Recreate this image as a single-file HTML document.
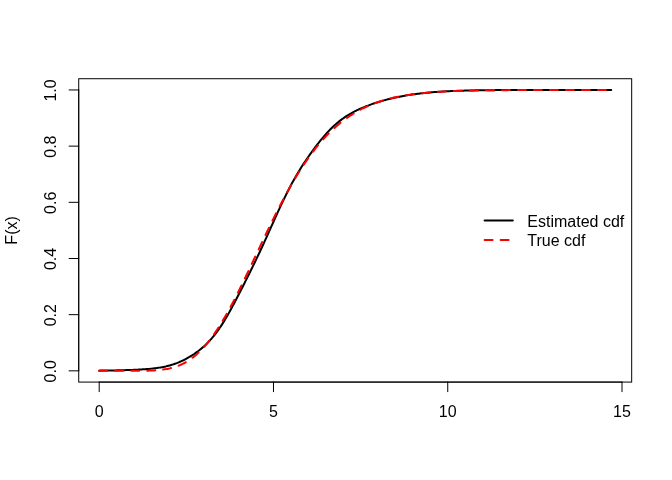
<!DOCTYPE html>
<html><head><meta charset="utf-8"><style>
html,body{margin:0;padding:0;background:#fff;}
svg{display:block;will-change:transform;}
text{font-family:"Liberation Sans",sans-serif;font-size:16px;fill:#000;}
</style></head><body>
<svg width="672" height="480" viewBox="0 0 672 480">
<rect width="672" height="480" fill="#fff"/>
<rect x="78.72" y="78.72" width="552.96" height="303.36" fill="none" stroke="#000" stroke-width="1.000"/>
<line x1="99.20" y1="382.08" x2="622.00" y2="382.08" stroke="#000" stroke-width="1.000" stroke-linecap="round"/>
<line x1="99.20" y1="382.08" x2="99.20" y2="391.68" stroke="#000" stroke-width="1.000" stroke-linecap="round"/>
<line x1="273.47" y1="382.08" x2="273.47" y2="391.68" stroke="#000" stroke-width="1.000" stroke-linecap="round"/>
<line x1="447.74" y1="382.08" x2="447.74" y2="391.68" stroke="#000" stroke-width="1.000" stroke-linecap="round"/>
<line x1="622.00" y1="382.08" x2="622.00" y2="391.68" stroke="#000" stroke-width="1.000" stroke-linecap="round"/>
<line x1="78.72" y1="370.84" x2="78.72" y2="89.96" stroke="#000" stroke-width="1.000" stroke-linecap="round"/>
<line x1="78.72" y1="370.84" x2="69.12" y2="370.84" stroke="#000" stroke-width="1.000" stroke-linecap="round"/>
<line x1="78.72" y1="314.67" x2="69.12" y2="314.67" stroke="#000" stroke-width="1.000" stroke-linecap="round"/>
<line x1="78.72" y1="258.49" x2="69.12" y2="258.49" stroke="#000" stroke-width="1.000" stroke-linecap="round"/>
<line x1="78.72" y1="202.31" x2="69.12" y2="202.31" stroke="#000" stroke-width="1.000" stroke-linecap="round"/>
<line x1="78.72" y1="146.13" x2="69.12" y2="146.13" stroke="#000" stroke-width="1.000" stroke-linecap="round"/>
<line x1="78.72" y1="89.96" x2="69.12" y2="89.96" stroke="#000" stroke-width="1.000" stroke-linecap="round"/>
<path d="M99.20,370.63 L100.48,370.61 L101.77,370.60 L103.05,370.58 L104.33,370.57 L105.62,370.55 L106.90,370.53 L108.18,370.51 L109.47,370.49 L110.75,370.47 L112.03,370.45 L113.32,370.43 L114.60,370.40 L115.88,370.38 L117.16,370.35 L118.45,370.32 L119.73,370.29 L121.01,370.26 L122.30,370.23 L123.58,370.19 L124.86,370.16 L126.15,370.12 L127.43,370.08 L128.71,370.03 L130.00,369.99 L131.28,369.94 L132.56,369.89 L133.85,369.84 L135.13,369.78 L136.41,369.72 L137.70,369.66 L138.98,369.59 L140.26,369.52 L141.55,369.45 L142.83,369.37 L144.11,369.28 L145.40,369.19 L146.68,369.09 L147.96,368.99 L149.25,368.88 L150.53,368.76 L151.81,368.63 L153.09,368.49 L154.38,368.34 L155.66,368.19 L156.94,368.01 L158.23,367.83 L159.51,367.63 L160.79,367.42 L162.08,367.19 L163.36,366.94 L164.64,366.68 L165.93,366.40 L167.21,366.09 L168.49,365.77 L169.78,365.42 L171.06,365.05 L172.34,364.66 L173.63,364.25 L174.91,363.81 L176.19,363.34 L177.48,362.85 L178.76,362.33 L180.04,361.78 L181.33,361.21 L182.61,360.61 L183.89,359.99 L185.17,359.33 L186.46,358.65 L187.74,357.94 L189.02,357.21 L190.31,356.44 L191.59,355.65 L192.87,354.82 L194.16,353.97 L195.44,353.08 L196.72,352.17 L198.01,351.22 L199.29,350.23 L200.57,349.21 L201.86,348.14 L203.14,347.04 L204.42,345.89 L205.71,344.69 L206.99,343.45 L208.27,342.15 L209.56,340.80 L210.84,339.39 L212.12,337.92 L213.41,336.39 L214.69,334.80 L215.97,333.15 L217.26,331.42 L218.54,329.64 L219.82,327.78 L221.10,325.87 L222.39,323.89 L223.67,321.85 L224.95,319.75 L226.24,317.59 L227.52,315.38 L228.80,313.13 L230.09,310.83 L231.37,308.48 L232.65,306.11 L233.94,303.70 L235.22,301.26 L236.50,298.80 L237.79,296.32 L239.07,293.82 L240.35,291.31 L241.64,288.78 L242.92,286.25 L244.20,283.70 L245.49,281.15 L246.77,278.59 L248.05,276.02 L249.34,273.43 L250.62,270.84 L251.90,268.24 L253.18,265.62 L254.47,262.98 L255.75,260.33 L257.03,257.65 L258.32,254.96 L259.60,252.25 L260.88,249.51 L262.17,246.75 L263.45,243.97 L264.73,241.17 L266.02,238.36 L267.30,235.52 L268.58,232.68 L269.87,229.82 L271.15,226.96 L272.43,224.09 L273.72,221.23 L275.00,218.37 L276.28,215.53 L277.57,212.70 L278.85,209.89 L280.13,207.11 L281.42,204.36 L282.70,201.64 L283.98,198.96 L285.27,196.32 L286.55,193.73 L287.83,191.18 L289.11,188.68 L290.40,186.23 L291.68,183.83 L292.96,181.48 L294.25,179.18 L295.53,176.92 L296.81,174.72 L298.10,172.56 L299.38,170.44 L300.66,168.37 L301.95,166.33 L303.23,164.34 L304.51,162.38 L305.80,160.45 L307.08,158.56 L308.36,156.69 L309.65,154.86 L310.93,153.06 L312.21,151.28 L313.50,149.53 L314.78,147.80 L316.06,146.11 L317.35,144.44 L318.63,142.80 L319.91,141.19 L321.19,139.61 L322.48,138.07 L323.76,136.55 L325.04,135.07 L326.33,133.63 L327.61,132.23 L328.89,130.86 L330.18,129.53 L331.46,128.24 L332.74,126.99 L334.03,125.79 L335.31,124.62 L336.59,123.50 L337.88,122.41 L339.16,121.37 L340.44,120.36 L341.73,119.39 L343.01,118.46 L344.29,117.56 L345.58,116.70 L346.86,115.87 L348.14,115.07 L349.43,114.30 L350.71,113.55 L351.99,112.84 L353.28,112.15 L354.56,111.48 L355.84,110.83 L357.12,110.20 L358.41,109.60 L359.69,109.01 L360.97,108.44 L362.26,107.88 L363.54,107.34 L364.82,106.82 L366.11,106.30 L367.39,105.81 L368.67,105.32 L369.96,104.85 L371.24,104.38 L372.52,103.93 L373.81,103.49 L375.09,103.06 L376.37,102.64 L377.66,102.24 L378.94,101.84 L380.22,101.45 L381.51,101.07 L382.79,100.70 L384.07,100.34 L385.36,99.99 L386.64,99.65 L387.92,99.31 L389.21,98.99 L390.49,98.67 L391.77,98.37 L393.05,98.07 L394.34,97.78 L395.62,97.49 L396.90,97.22 L398.19,96.95 L399.47,96.69 L400.75,96.44 L402.04,96.20 L403.32,95.96 L404.60,95.73 L405.89,95.51 L407.17,95.29 L408.45,95.08 L409.74,94.88 L411.02,94.69 L412.30,94.50 L413.59,94.31 L414.87,94.14 L416.15,93.97 L417.44,93.80 L418.72,93.64 L420.00,93.49 L421.29,93.34 L422.57,93.19 L423.85,93.06 L425.13,92.92 L426.42,92.79 L427.70,92.67 L428.98,92.55 L430.27,92.43 L431.55,92.32 L432.83,92.22 L434.12,92.12 L435.40,92.02 L436.68,91.92 L437.97,91.83 L439.25,91.74 L440.53,91.66 L441.82,91.58 L443.10,91.50 L444.38,91.43 L445.67,91.36 L446.95,91.29 L448.23,91.23 L449.52,91.16 L450.80,91.10 L452.08,91.05 L453.37,90.99 L454.65,90.94 L455.93,90.89 L457.22,90.84 L458.50,90.80 L459.78,90.76 L461.06,90.71 L462.35,90.67 L463.63,90.64 L464.91,90.60 L466.20,90.57 L467.48,90.53 L468.76,90.50 L470.05,90.47 L471.33,90.45 L472.61,90.42 L473.90,90.39 L475.18,90.37 L476.46,90.35 L477.75,90.32 L479.03,90.30 L480.31,90.28 L481.60,90.27 L482.88,90.25 L484.16,90.23 L485.45,90.22 L486.73,90.20 L488.01,90.19 L489.30,90.17 L490.58,90.16 L491.86,90.15 L493.14,90.14 L494.43,90.13 L495.71,90.12 L496.99,90.11 L498.28,90.10 L499.56,90.09 L500.84,90.08 L502.13,90.07 L503.41,90.06 L504.69,90.06 L505.98,90.05 L507.26,90.05 L508.54,90.04 L509.83,90.03 L511.11,90.03 L512.39,90.02 L513.68,90.02 L514.96,90.02 L516.24,90.01 L517.53,90.01 L518.81,90.00 L520.09,90.00 L521.38,90.00 L522.66,90.00 L523.94,89.99 L525.23,89.99 L526.51,89.99 L527.79,89.99 L529.07,89.98 L530.36,89.98 L531.64,89.98 L532.92,89.98 L534.21,89.98 L535.49,89.98 L536.77,89.97 L538.06,89.97 L539.34,89.97 L540.62,89.97 L541.91,89.97 L543.19,89.97 L544.47,89.97 L545.76,89.97 L547.04,89.97 L548.32,89.96 L549.61,89.96 L550.89,89.96 L552.17,89.96 L553.46,89.96 L554.74,89.96 L556.02,89.96 L557.31,89.96 L558.59,89.96 L559.87,89.96 L561.15,89.96 L562.44,89.96 L563.72,89.96 L565.00,89.96 L566.29,89.96 L567.57,89.96 L568.85,89.96 L570.14,89.96 L571.42,89.96 L572.70,89.96 L573.99,89.96 L575.27,89.96 L576.55,89.96 L577.84,89.96 L579.12,89.96 L580.40,89.96 L581.69,89.96 L582.97,89.96 L584.25,89.96 L585.54,89.96 L586.82,89.96 L588.10,89.96 L589.39,89.96 L590.67,89.96 L591.95,89.96 L593.24,89.96 L594.52,89.96 L595.80,89.96 L597.08,89.96 L598.37,89.96 L599.65,89.96 L600.93,89.96 L602.22,89.96 L603.50,89.96 L604.78,89.96 L606.07,89.96 L607.35,89.96 L608.63,89.96 L609.92,89.96 L611.20,89.96" fill="none" stroke="#000" stroke-width="2.000" stroke-linecap="round" stroke-linejoin="round"/>
<path d="M99.20,370.84 L100.48,370.84 L101.77,370.84 L103.05,370.84 L104.33,370.84 L105.62,370.84 L106.90,370.84 L108.18,370.84 L109.47,370.84 L110.75,370.84 L112.03,370.84 L113.32,370.84 L114.60,370.84 L115.88,370.84 L117.16,370.84 L118.45,370.84 L119.73,370.84 L121.01,370.84 L122.30,370.84 L123.58,370.84 L124.86,370.84 L126.15,370.84 L127.43,370.84 L128.71,370.84 L130.00,370.84 L131.28,370.84 L132.56,370.84 L133.85,370.83 L135.13,370.83 L136.41,370.82 L137.70,370.82 L138.98,370.81 L140.26,370.80 L141.55,370.78 L142.83,370.77 L144.11,370.75 L145.40,370.72 L146.68,370.69 L147.96,370.66 L149.25,370.62 L150.53,370.57 L151.81,370.52 L153.09,370.46 L154.38,370.39 L155.66,370.30 L156.94,370.21 L158.23,370.10 L159.51,369.98 L160.79,369.85 L162.08,369.70 L163.36,369.53 L164.64,369.34 L165.93,369.13 L167.21,368.90 L168.49,368.65 L169.78,368.37 L171.06,368.06 L172.34,367.73 L173.63,367.37 L174.91,366.98 L176.19,366.56 L177.48,366.10 L178.76,365.60 L180.04,365.07 L181.33,364.51 L182.61,363.90 L183.89,363.25 L185.17,362.56 L186.46,361.83 L187.74,361.05 L189.02,360.23 L190.31,359.36 L191.59,358.45 L192.87,357.48 L194.16,356.47 L195.44,355.41 L196.72,354.29 L198.01,353.13 L199.29,351.91 L200.57,350.65 L201.86,349.33 L203.14,347.95 L204.42,346.53 L205.71,345.05 L206.99,343.52 L208.27,341.94 L209.56,340.31 L210.84,338.62 L212.12,336.89 L213.41,335.10 L214.69,333.27 L215.97,331.38 L217.26,329.45 L218.54,327.47 L219.82,325.44 L221.10,323.37 L222.39,321.25 L223.67,319.09 L224.95,316.89 L226.24,314.65 L227.52,312.37 L228.80,310.05 L230.09,307.70 L231.37,305.31 L232.65,302.89 L233.94,300.43 L235.22,297.95 L236.50,295.44 L237.79,292.90 L239.07,290.34 L240.35,287.75 L241.64,285.14 L242.92,282.52 L244.20,279.87 L245.49,277.21 L246.77,274.54 L248.05,271.85 L249.34,269.15 L250.62,266.45 L251.90,263.73 L253.18,261.02 L254.47,258.29 L255.75,255.57 L257.03,252.84 L258.32,250.12 L259.60,247.40 L260.88,244.68 L262.17,241.97 L263.45,239.27 L264.73,236.57 L266.02,233.89 L267.30,231.22 L268.58,228.56 L269.87,225.92 L271.15,223.29 L272.43,220.68 L273.72,218.08 L275.00,215.51 L276.28,212.96 L277.57,210.42 L278.85,207.91 L280.13,205.43 L281.42,202.96 L282.70,200.53 L283.98,198.12 L285.27,195.73 L286.55,193.37 L287.83,191.04 L289.11,188.74 L290.40,186.47 L291.68,184.23 L292.96,182.02 L294.25,179.84 L295.53,177.69 L296.81,175.57 L298.10,173.49 L299.38,171.44 L300.66,169.42 L301.95,167.43 L303.23,165.47 L304.51,163.55 L305.80,161.66 L307.08,159.81 L308.36,157.98 L309.65,156.19 L310.93,154.44 L312.21,152.71 L313.50,151.03 L314.78,149.37 L316.06,147.74 L317.35,146.15 L318.63,144.60 L319.91,143.07 L321.19,141.58 L322.48,140.11 L323.76,138.68 L325.04,137.28 L326.33,135.92 L327.61,134.58 L328.89,133.27 L330.18,132.00 L331.46,130.75 L332.74,129.53 L334.03,128.35 L335.31,127.19 L336.59,126.06 L337.88,124.95 L339.16,123.88 L340.44,122.83 L341.73,121.81 L343.01,120.81 L344.29,119.84 L345.58,118.90 L346.86,117.98 L348.14,117.08 L349.43,116.21 L350.71,115.36 L351.99,114.54 L353.28,113.74 L354.56,112.96 L355.84,112.20 L357.12,111.47 L358.41,110.75 L359.69,110.06 L360.97,109.38 L362.26,108.73 L363.54,108.09 L364.82,107.48 L366.11,106.88 L367.39,106.30 L368.67,105.73 L369.96,105.19 L371.24,104.66 L372.52,104.14 L373.81,103.65 L375.09,103.17 L376.37,102.70 L377.66,102.25 L378.94,101.81 L380.22,101.38 L381.51,100.97 L382.79,100.58 L384.07,100.19 L385.36,99.82 L386.64,99.46 L387.92,99.11 L389.21,98.78 L390.49,98.45 L391.77,98.14 L393.05,97.83 L394.34,97.54 L395.62,97.26 L396.90,96.98 L398.19,96.72 L399.47,96.46 L400.75,96.22 L402.04,95.98 L403.32,95.75 L404.60,95.53 L405.89,95.31 L407.17,95.11 L408.45,94.91 L409.74,94.72 L411.02,94.53 L412.30,94.35 L413.59,94.18 L414.87,94.02 L416.15,93.86 L417.44,93.70 L418.72,93.56 L420.00,93.41 L421.29,93.28 L422.57,93.14 L423.85,93.02 L425.13,92.89 L426.42,92.77 L427.70,92.66 L428.98,92.55 L430.27,92.45 L431.55,92.35 L432.83,92.25 L434.12,92.15 L435.40,92.06 L436.68,91.98 L437.97,91.89 L439.25,91.81 L440.53,91.74 L441.82,91.66 L443.10,91.59 L444.38,91.52 L445.67,91.46 L446.95,91.40 L448.23,91.34 L449.52,91.28 L450.80,91.22 L452.08,91.17 L453.37,91.12 L454.65,91.07 L455.93,91.02 L457.22,90.98 L458.50,90.93 L459.78,90.89 L461.06,90.85 L462.35,90.81 L463.63,90.77 L464.91,90.74 L466.20,90.71 L467.48,90.67 L468.76,90.64 L470.05,90.61 L471.33,90.58 L472.61,90.56 L473.90,90.53 L475.18,90.50 L476.46,90.48 L477.75,90.46 L479.03,90.43 L480.31,90.41 L481.60,90.39 L482.88,90.37 L484.16,90.36 L485.45,90.34 L486.73,90.32 L488.01,90.30 L489.30,90.29 L490.58,90.27 L491.86,90.26 L493.14,90.25 L494.43,90.23 L495.71,90.22 L496.99,90.21 L498.28,90.20 L499.56,90.19 L500.84,90.18 L502.13,90.17 L503.41,90.16 L504.69,90.15 L505.98,90.14 L507.26,90.13 L508.54,90.12 L509.83,90.11 L511.11,90.11 L512.39,90.10 L513.68,90.09 L514.96,90.09 L516.24,90.08 L517.53,90.07 L518.81,90.07 L520.09,90.06 L521.38,90.06 L522.66,90.05 L523.94,90.05 L525.23,90.04 L526.51,90.04 L527.79,90.04 L529.07,90.03 L530.36,90.03 L531.64,90.03 L532.92,90.02 L534.21,90.02 L535.49,90.02 L536.77,90.01 L538.06,90.01 L539.34,90.01 L540.62,90.01 L541.91,90.00 L543.19,90.00 L544.47,90.00 L545.76,90.00 L547.04,89.99 L548.32,89.99 L549.61,89.99 L550.89,89.99 L552.17,89.99 L553.46,89.99 L554.74,89.98 L556.02,89.98 L557.31,89.98 L558.59,89.98 L559.87,89.98 L561.15,89.98 L562.44,89.98 L563.72,89.98 L565.00,89.98 L566.29,89.97 L567.57,89.97 L568.85,89.97 L570.14,89.97 L571.42,89.97 L572.70,89.97 L573.99,89.97 L575.27,89.97 L576.55,89.97 L577.84,89.97 L579.12,89.97 L580.40,89.97 L581.69,89.97 L582.97,89.97 L584.25,89.96 L585.54,89.96 L586.82,89.96 L588.10,89.96 L589.39,89.96 L590.67,89.96 L591.95,89.96 L593.24,89.96 L594.52,89.96 L595.80,89.96 L597.08,89.96 L598.37,89.96 L599.65,89.96 L600.93,89.96 L602.22,89.96 L603.50,89.96 L604.78,89.96 L606.07,89.96 L607.35,89.96 L608.63,89.96 L609.92,89.96 L611.20,89.96" fill="none" stroke="#f00" stroke-width="2.000" stroke-linecap="round" stroke-linejoin="round" stroke-dasharray="8 8"/>
<line x1="484.6" y1="220.6" x2="512.8" y2="220.6" stroke="#000" stroke-width="2.000" stroke-linecap="round"/>
<line x1="484.6" y1="239.9" x2="512.8" y2="239.9" stroke="#f00" stroke-width="2.000" stroke-linecap="round" stroke-dasharray="8 8"/>
<text x="99.20" y="417.0" text-anchor="middle">0</text>
<text x="273.47" y="417.0" text-anchor="middle">5</text>
<text x="447.74" y="417.0" text-anchor="middle">10</text>
<text x="622.00" y="417.0" text-anchor="middle">15</text>
<text x="55.8" y="371.34" text-anchor="middle" transform="rotate(-90 55.8 371.34)">0.0</text>
<text x="55.8" y="315.17" text-anchor="middle" transform="rotate(-90 55.8 315.17)">0.2</text>
<text x="55.8" y="258.99" text-anchor="middle" transform="rotate(-90 55.8 258.99)">0.4</text>
<text x="55.8" y="202.81" text-anchor="middle" transform="rotate(-90 55.8 202.81)">0.6</text>
<text x="55.8" y="146.63" text-anchor="middle" transform="rotate(-90 55.8 146.63)">0.8</text>
<text x="55.8" y="90.46" text-anchor="middle" transform="rotate(-90 55.8 90.46)">1.0</text>
<text x="16.7" y="230.40" text-anchor="middle" transform="rotate(-90 16.7 230.40)">F(x)</text>
<text x="527.3" y="227">Estimated cdf</text>
<text x="527.3" y="246.3">True cdf</text>
</svg>
</body></html>
